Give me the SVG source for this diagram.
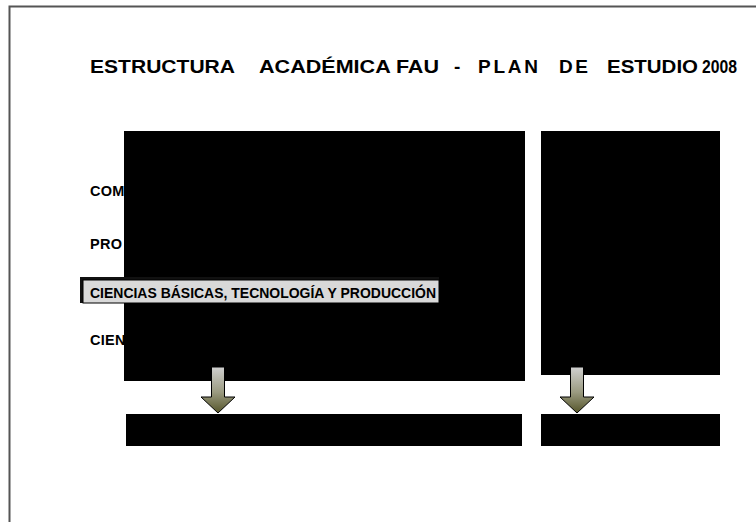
<svg xmlns="http://www.w3.org/2000/svg" width="756" height="522" viewBox="0 0 756 522">
<defs>
<style>
.t{font-family:"Liberation Sans",Arial,sans-serif;font-weight:bold;fill:#000}
.title{font-size:19px}
.lbl{font-size:14.5px;letter-spacing:0.3px}
.blk{fill:#000}
.arr{stroke:#000;stroke-width:1;fill:url(#g)}
</style>
<linearGradient id="g" x1="0" y1="0" x2="0" y2="1">
<stop offset="0" stop-color="#d0d0d0"/>
<stop offset="0.55" stop-color="#9a9a80"/>
<stop offset="1" stop-color="#55552a"/>
</linearGradient>
</defs>
<rect width="756" height="522" fill="#fff"/>
<path d="M9.5,522 V6.5 H756" fill="none" stroke="#555" stroke-width="2"/>
<g id="title">
<text class="t title" x="90" y="73" textLength="145" lengthAdjust="spacingAndGlyphs">ESTRUCTURA</text>
<text class="t title" x="259" y="73" textLength="180" lengthAdjust="spacingAndGlyphs">ACADÉMICA FAU</text>
<text class="t title" x="454" y="73">-</text>
<text class="t title" x="478" y="73" textLength="60" lengthAdjust="spacing">PLAN</text>
<text class="t title" x="559" y="73" textLength="29" lengthAdjust="spacing">DE</text>
<text class="t title" x="607" y="73" textLength="91" lengthAdjust="spacingAndGlyphs">ESTUDIO</text>
<text class="t title" x="702" y="73" textLength="35" lengthAdjust="spacingAndGlyphs">2008</text>
</g>
<g id="labels">
<text class="t lbl" x="90" y="196">COM</text>
<text class="t lbl" x="90" y="249">PRO</text>
<text class="t lbl" x="90" y="345">CIEN</text>
</g>
<g id="main-block"><rect class="blk" x="124" y="131" width="401" height="250"/></g>
<g id="side-block"><rect class="blk" x="541" y="131" width="179" height="244"/></g>
<g id="highlight-label">
<rect x="80" y="277" width="359" height="26" fill="#111"/>
<rect x="83" y="280" width="356" height="23" fill="#d9d9d9" stroke="#000" stroke-width="1"/>
<text class="t" font-size="15" x="90" y="298" textLength="346" lengthAdjust="spacingAndGlyphs">CIENCIAS BÁSICAS, TECNOLOGÍA Y PRODUCCIÓN</text>
</g>
<g id="connectors">
<path class="arr" d="M211.5,367 H224.5 V397 H235 L218,413 L201,397 H211.5 Z"/>
<path class="arr" d="M570.5,367 H583.5 V397 H594 L577,413 L560,397 H570.5 Z"/>
</g>
<g id="bottom-left"><rect class="blk" x="126" y="414" width="396" height="32"/></g>
<g id="bottom-right"><rect class="blk" x="541" y="414" width="179" height="32"/></g>
</svg>
